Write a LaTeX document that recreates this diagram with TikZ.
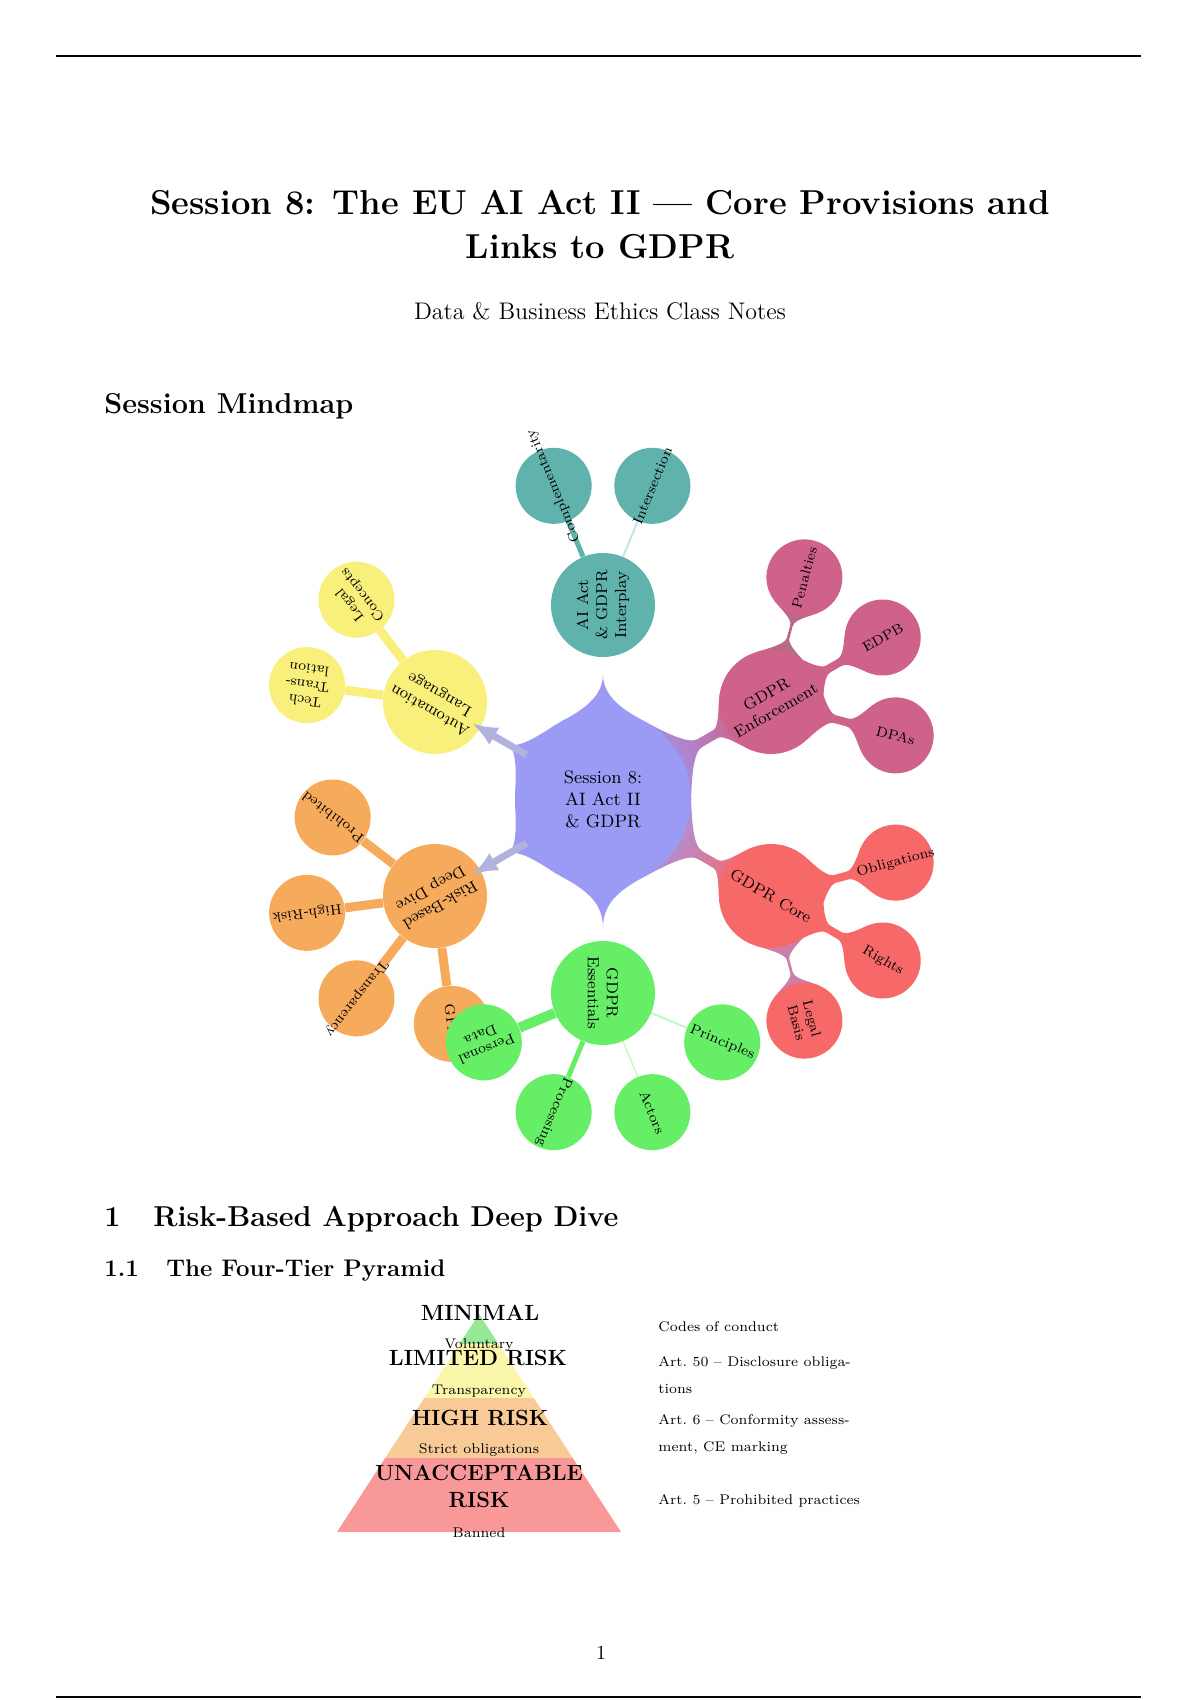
\documentclass[tikz,border=0pt]{standalone}
\usetikzlibrary{arrows.meta}
\definecolor{lav}{RGB}{155,155,245}
\definecolor{tealc}{RGB}{96,178,172}
\definecolor{pinkc}{RGB}{206,98,138}
\definecolor{redc}{RGB}{247,104,104}
\definecolor{greenc}{RGB}{102,238,102}
\definecolor{orangec}{RGB}{246,170,92}
\definecolor{yellowc}{RGB}{248,240,122}
\definecolor{arrowc}{RGB}{178,178,222}
\definecolor{pgreen}{RGB}{150,232,150}
\definecolor{pyellow}{RGB}{250,246,170}
\definecolor{porange}{RGB}{248,202,152}
\definecolor{pred}{RGB}{248,152,152}
\pgfdeclarelayer{bg}
\pgfsetlayers{bg,main}
% flared connection bar between two circles (local frame: A at origin, B at (d,0))
\newcommand\mmbar[8]{%
 \pgfmathsetmacro\mbAx{#4*cos(32)}%
 \pgfmathsetmacro\mbAy{#4*sin(32)}%
 \pgfmathsetmacro\mbAcx{\mbAx+0.53*#8}%
 \pgfmathsetmacro\mbAcy{\mbAy-0.848*#8}%
 \pgfmathsetmacro\mbNa{#4+#8}%
 \pgfmathsetmacro\mbNac{#4+0.55*#8}%
 \pgfmathsetmacro\mbBx{#5-#6*cos(38)}%
 \pgfmathsetmacro\mbBy{#6*sin(38)}%
 \pgfmathsetmacro\mbBcx{\mbBx-7.4}%
 \pgfmathsetmacro\mbBcy{\mbBy-9.5}%
 \pgfmathsetmacro\mbNb{#5-#6-12}%
 \pgfmathsetmacro\mbNbc{#5-#6-5}%
 \path[#1,shift={(#2)},rotate=#3]
  (\mbAx,\mbAy) .. controls (\mbAcx,\mbAcy) and (\mbNac,#7) .. (\mbNa,#7)
  -- (\mbNb,#7) .. controls (\mbNbc,#7) and (\mbBcx,\mbBcy) .. (\mbBx,\mbBy)
  -- (\mbBx,-\mbBy) .. controls (\mbBcx,-\mbBcy) and (\mbNbc,-#7) .. (\mbNb,-#7)
  -- (\mbNa,-#7) .. controls (\mbNac,-#7) and (\mbAcx,-\mbAcy) .. (\mbAx,-\mbAy) -- cycle;}
% concave spike out of a circle
\newcommand\mmspike[5]{%
 \pgfmathsetmacro\msPx{#4*cos(28)}%
 \pgfmathsetmacro\msPy{#4*sin(28)}%
 \pgfmathsetmacro\msCx{\msPx+0.8*#5*0.469}%
 \pgfmathsetmacro\msCy{\msPy-0.8*#5*0.883}%
 \pgfmathsetmacro\msT{#4+#5}%
 \pgfmathsetmacro\msTc{#4+0.45*#5}%
 \path[#1,shift={(#2)},rotate=#3]
  (\msPx,\msPy) .. controls (\msCx,\msCy) and (\msTc,0.5) .. (\msT,0)
  .. controls (\msTc,-0.5) and (\msCx,-\msCy) .. (\msPx,-\msPy) -- cycle;}
\newcommand\zw[1]{\makebox[0pt][c]{#1}}
\begin{document}
\begin{tikzpicture}[x=0.5pt,y=0.5pt,
  root/.style={circle,fill=lav,minimum size=88pt,inner sep=0pt,align=center,font=\small},
  lvone/.style={circle,minimum size=52pt,inner sep=0pt,align=center,font=\footnotesize},
  lvtwo/.style={circle,minimum size=38pt,inner sep=0pt,align=center,font=\scriptsize},
  plabel/.style={font=\fontsize{11}{13.5}\selectfont\bfseries,align=center,inner sep=0pt},
  psmall/.style={font=\scriptsize,inner sep=0pt,anchor=base},
  annot/.style={font=\fontsize{7}{13.5}\selectfont,align=left,inner sep=0pt},
  arrowbar/.style={line width=3.5pt,arrowc,-{Latex[length=13pt,width=10pt]},shorten >=-5pt},
  rulestyle/.style={line width=0.8pt}]
\begin{pgfonlayer}{bg}
\fill[white] (0,0) rectangle (1200,-1700);
\end{pgfonlayer}
\useasboundingbox (0,0) rectangle (1200,-1700);
% header and footer rules
\coordinate (hl) at (56,-56); \coordinate (hr) at (1141,-56);
\coordinate (fl) at (56,-1697); \coordinate (fr) at (1141,-1697);
\draw[rulestyle] (hl) -- (hr);
\draw[rulestyle] (fl) -- (fr);
% title
\node[font=\LARGE\bfseries,anchor=base] (title1) at (600,-215) {Session 8: The EU AI Act II --- Core Provisions and};
\node[font=\LARGE\bfseries,anchor=base] (title2) at (600,-259) {Links to GDPR};
\node[font=\large,anchor=base] (subtitle) at (600,-320) {Data \& Business Ethics Class Notes};
\node[font=\Large\bfseries,anchor=base west,inner sep=0pt] (mmhead) at (104,-414) {Session Mindmap};
% ---------- mindmap nodes ----------
\node[root] (C) at (603,-799) {Session 8:\\AI Act II\\\& GDPR};
% teal
\node[lvone,fill=tealc,rotate=90] (T) at ([shift={(90:194)}]C) {AI Act\\\& GDPR\\Interplay};
\node[lvtwo,fill=tealc,rotate=112.5] (T1) at ([shift={(112.5:129)}]T) {\zw{Complementarity}};
\node[lvtwo,fill=tealc,rotate=67.5] (T2) at ([shift={(67.5:129)}]T) {\zw{Intersection}};
% pink
\node[lvone,fill=pinkc,rotate=30] (P) at ([shift={(30:194)}]C) {GDPR\\Enforcement};
\node[lvtwo,fill=pinkc,rotate=75] (P1) at ([shift={(75:129)}]P) {Penalties};
\node[lvtwo,fill=pinkc,rotate=30] (P2) at ([shift={(30:129)}]P) {EDPB};
\node[lvtwo,fill=pinkc,rotate=-15] (P3) at ([shift={(-15:129)}]P) {DPAs};
% red
\node[lvone,fill=redc,rotate=-30] (R) at ([shift={(-30:194)}]C) {GDPR Core};
\node[lvtwo,fill=redc,rotate=15] (R1) at ([shift={(15:129)}]R) {\zw{Obligations}};
\node[lvtwo,fill=redc,rotate=-30] (R2) at ([shift={(-30:129)}]R) {Rights};
\node[lvtwo,fill=redc,rotate=-75] (R3) at ([shift={(-75:129)}]R) {Legal\\Basis};
% orange
\node[lvone,fill=orangec,rotate=-150] (O) at ([shift={(-150:194)}]C) {Risk-Based\\Deep Dive};
\node[lvtwo,fill=orangec,rotate=142.5] (O1) at ([shift={(142.5:129)}]O) {\zw{Prohibited}};
\node[lvtwo,fill=orangec,rotate=187.5] (O2) at ([shift={(187.5:129)}]O) {\zw{High-Risk}};
\node[lvtwo,fill=orangec,rotate=232.5] (O3) at ([shift={(232.5:129)}]O) {\zw{Transparency}};
\node[lvtwo,fill=orangec,rotate=277.5] (O4) at ([shift={(277.5:129)}]O) {GPAI};
% yellow
\node[lvone,fill=yellowc,rotate=150] (Y) at ([shift={(150:194)}]C) {Automation\\Language};
\node[lvtwo,fill=yellowc,rotate=127.5] (Y1) at ([shift={(127.5:129)}]Y) {Legal\\Concepts};
\node[lvtwo,fill=yellowc,rotate=172.5] (Y2) at ([shift={(172.5:129)}]Y) {Tech\\Trans-\\lation};
% green
\node[lvone,fill=greenc,rotate=-90] (G) at ([shift={(-90:194)}]C) {GDPR\\Essentials};
\node[lvtwo,fill=greenc,rotate=-22.5] (G1) at ([shift={(-22.5:129)}]G) {\zw{Principles}};
\node[lvtwo,fill=greenc,rotate=-67.5] (G2) at ([shift={(-67.5:129)}]G) {Actors};
\node[lvtwo,fill=greenc,rotate=-112.5] (G3) at ([shift={(-112.5:129)}]G) {\zw{Processing}};
\node[lvtwo,fill=greenc,rotate=-157.5] (G4) at ([shift={(-157.5:129)}]G) {Personal\\Data};
% arrows from the root
\draw[arrowbar] (C) -- (Y);
\draw[arrowbar] (C) -- (O);
% ---------- connections (background) ----------
\begin{pgfonlayer}{bg}
 \mmspike{fill=lav}{C}{90}{88}{36}
 \mmspike{fill=lav}{C}{-90}{88}{40}
 \mmspike{fill=lav}{C}{150}{88}{22}
 \mmspike{fill=lav}{C}{-150}{88}{22}
 \mmbar{left color=lav,right color=pinkc,shading angle=120}{C}{30}{88}{194}{52}{4.5}{24}
 \mmbar{left color=lav,right color=redc,shading angle=60}{C}{-30}{88}{194}{52}{4.5}{24}
 \mmbar{fill=pinkc!75!gray}{P}{75}{52}{129}{38}{1.3}{14}
 \mmbar{fill=pinkc}{P}{30}{52}{129}{38}{4}{14}
 \mmbar{fill=pinkc}{P}{-15}{52}{129}{38}{4}{14}
 \mmbar{fill=redc}{R}{15}{52}{129}{38}{4}{14}
 \mmbar{fill=redc}{R}{-30}{52}{129}{38}{4}{14}
 \mmbar{fill=redc!55!lav}{R}{-75}{52}{129}{38}{1.3}{14}
 \draw[line width=2.5pt,tealc] (T) -- (T1);
 \draw[line width=1pt,tealc!35] (T) -- (T2);
 \draw[line width=1pt,greenc!40] (G) -- (G1);
 \draw[line width=0.8pt,greenc!35] (G) -- (G2);
 \draw[line width=2.5pt,greenc] (G) -- (G3);
 \draw[line width=5pt,greenc] (G) -- (G4);
 \foreach \k in {O1,O2,O3,O4} {\draw[line width=4.5pt,orangec] (O) -- (\k);}
 \foreach \k in {Y1,Y2} {\draw[line width=4.5pt,yellowc] (Y) -- (\k);}
\end{pgfonlayer}
% ---------- section headings ----------
\node[font=\Large\bfseries,anchor=base west,inner sep=0pt] (secnum) at (104,-1226) {1};
\node[font=\Large\bfseries,anchor=base west,inner sep=0pt] (sectitle) at (153,-1226) {Risk-Based Approach Deep Dive};
\node[font=\large\bfseries,anchor=base west,inner sep=0pt] (subnum) at (104,-1276) {1.1};
\node[font=\large\bfseries,anchor=base west,inner sep=0pt] (subtitle2) at (166,-1276) {The Four-Tier Pyramid};
% ---------- pyramid ----------
\fill[pgreen] (479,-1314) -- (498.5,-1344) -- (459.5,-1344) -- cycle;
\fill[pyellow] (459.5,-1344) -- (498.5,-1344) -- (533.7,-1398) -- (424.3,-1398) -- cycle;
\fill[porange] (424.3,-1398) -- (533.7,-1398) -- (572.8,-1458) -- (385.2,-1458) -- cycle;
\fill[pred] (385.2,-1458) -- (572.8,-1458) -- (621,-1532) -- (337,-1532) -- cycle;
\node[plabel] (pmin) at (480,-1313) {MINIMAL};
\node[psmall] (pvol) at (479,-1348) {Voluntary};
\node[plabel] (plim) at (478,-1358) {LIMITED RISK};
\node[psmall] (ptra) at (479,-1394) {Transparency};
\node[plabel] (phig) at (480,-1418) {HIGH RISK};
\node[psmall] (pstr) at (479,-1453) {Strict obligations};
\node[plabel] (punac) at (479,-1486) {UNACCEPTABLE\\RISK};
\node[psmall] (pban) at (479,-1537) {Banned};
% annotations
\node[annot,anchor=base west] (a1) at (658,-1331) {Codes of conduct};
\node[annot,anchor=west] (a2) at (658,-1375) {Art.~50 -- Disclosure obliga-\\tions};
\node[annot,anchor=west] (a3) at (658,-1434) {Art.~6 -- Conformity assess-\\ment, CE marking};
\node[annot,anchor=base west] (a4) at (658,-1504) {Art.~5 -- Prohibited practices};
% page number
\node[anchor=base] (pagenum) at (601,-1659) {1};
\end{tikzpicture}
\end{document}
